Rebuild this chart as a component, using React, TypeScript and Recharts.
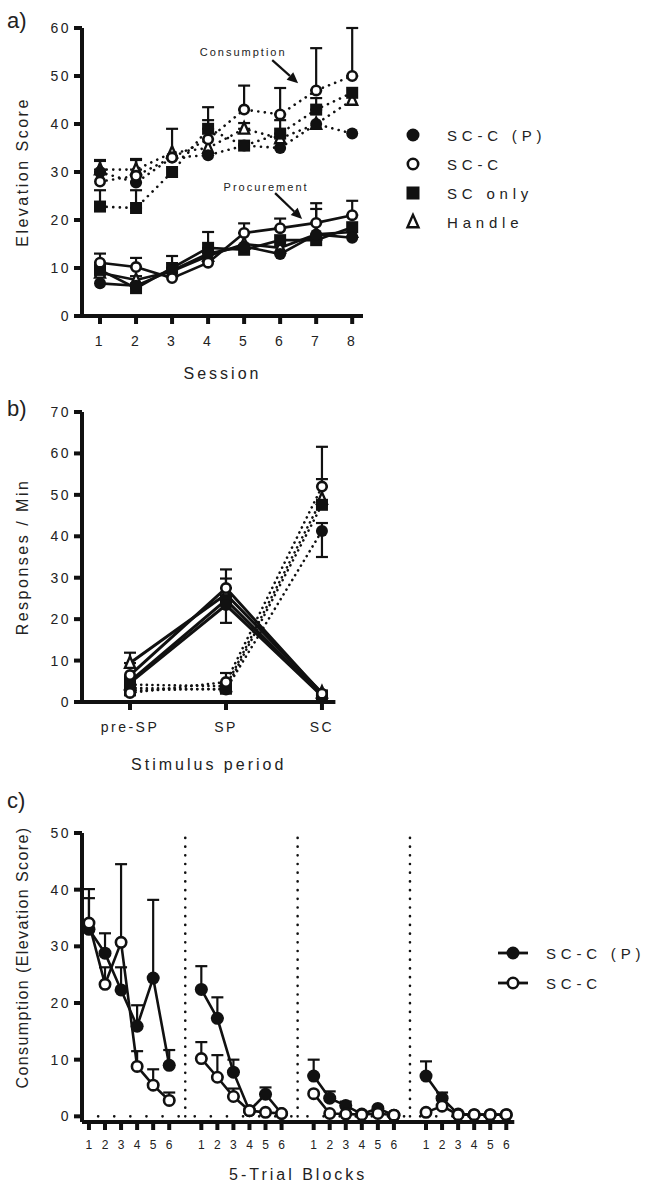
import React from "react";
import { LineChart, Line, XAxis, YAxis, ErrorBar, ReferenceLine } from "recharts";

const FONT = "'Liberation Sans', Arial, Helvetica, sans-serif";
const INK = "#111";
const TXT = "#222";

// ---- a) elevation score per session
const sessions = [1, 2, 3, 4, 5, 6, 7, 8];
const groupNames = ["SC-C (P)", "SC-C", "SC only", "Handle"];

// consumption (dotted)
const consSccP = [30, 27.8, 33, 33.5, 35.5, 35, 40, 38];
const consScc = [28, 29.2, 33, 36.8, 43, 42, 47, 50];
const consScOnly = [22.8, 22.5, 30, 39, 35.5, 38, 43, 46.5];
const consHandle = [30.5, 30.5, 34, 35, 39, 37, 40, 45];
const consSccPErr = [2.5, 4.7, null, null, null, null, null, null];
const consSccErr = [null, 3.5, 6, 4, 5, 5.5, 8.8, 10];
const consScOnlyErr = [3.4, 3.7, null, 4.5, null, 2.8, 2.4, null];
const consHandleErr = [1.8, 2.2, null, null, 1.2, null, null, null];

// procurement (solid)
const procSccP = [6.8, 6.3, 9.5, 13, 14.5, 12.9, 17, 16.3];
const procScc = [11.1, 10.2, 7.9, 11.1, 17.3, 18.3, 19.4, 21];
const procScOnly = [9.6, 5.8, 10, 14.2, 13.8, 15.8, 15.8, 18.5];
const procHandle = [9, 7.5, 9.3, 12.5, 15, 14.2, 17, 17.5];
const procSccPErr = [null, null, null, null, null, null, 5.3, null];
const procSccErr = [1.9, 1.9, null, null, 2, 2, 4.1, 3];
const procScOnlyErr = [null, 2.5, 2.5, 3.3, null, null, null, null];

const notesA = [
  { text: "Consumption", from: [5.78, 53.3], to: [6.5, 48.5], dx: -29, dy: -8 },
  { text: "Procurement", from: [5.86, 25.6], to: [6.61, 20.2], dx: -9, dy: -6 },
];

// ---- b) responses per minute by stimulus period
const periods = ["pre-SP", "SP", "SC"];
const periodPos = [0, 1, 2];
// SP responding (solid)
const spSccP = [4.6, 23.4, 1.5];
const spScc = [6.5, 27.5, 2];
const spScOnly = [5, 24.6, 1.6];
const spHandle = [9.4, 26, 2.2];
const spSccPLow = [null, 4.3, null];
const spSccHigh = [null, 4.5, null];
const spScOnlyHigh = [null, 5.2, null];
const spHandleHigh = [2.5, null, null];
// SC responding (dotted)
const scSccP = [3.4, 3, 41.3];
const scScc = [2.2, 4.8, 52];
const scScOnly = [2.8, 3.2, 47.6];
const scHandle = [4.2, 3.8, 49];
const scSccPLow = [null, null, 6.3];
const scSccPHigh = [null, null, 1.9];
const scSccHigh = [null, 2.2, 9.6];
const scScOnlyHigh = [null, null, 6.2];

// ---- c) consumption over 5-trial blocks, four sessions
const blockLabels = ["1", "2", "3", "4", "5", "6"];
const blockDividers = [7, 14, 21];
const conSccP = [
  33, 28.8, 22.3, 15.9, 24.4, 9.0,
  22.4, 17.3, 7.8, 1.0, 3.9, 0.5,
  7.1, 3.2, 1.9, 0.4, 1.4, 0.2,
  7.1, 3.2, 0.4, 0.3, 0.3, 0.3,
];
const conScc = [
  34.1, 23.3, 30.7, 8.8, 5.5, 2.8,
  10.2, 6.9, 3.5, 1.0, 0.7, 0.5,
  4.0, 0.5, 0.4, 0.3, 0.5, 0.2,
  0.7, 1.8, 0.3, 0.3, 0.3, 0.3,
];
const conSccPErr = [
  5.5, 3.5, 4.0, 3.7, 13.8, 2.7,
  4.1, 3.7, 2.2, null, 1.2, null,
  2.9, 1.2, 0.7, null, null, null,
  2.6, 1.0, null, null, null, null,
];
const conSccErr = [
  6.0, 3.0, 13.8, 2.7, 2.8, 1.4,
  2.9, 3.9, 1.4, null, null, null,
  null, null, null, null, null, null,
  null, null, null, null, null, null,
];

type Kind = "dot" | "ring" | "square" | "tri";
const kinds: Kind[] = ["dot", "ring", "square", "tri"];

const up = (e: number | null) => (e == null ? null : [0, e]);
const both = (lo: number | null, hi: number | null) =>
  lo == null && hi == null ? null : [lo ?? 0, hi ?? 0];

const rowsA = sessions.map((s, i) => ({
  s,
  cP: consSccP[i], cC: consScc[i], cO: consScOnly[i], cH: consHandle[i],
  pP: procSccP[i], pC: procScc[i], pO: procScOnly[i], pH: procHandle[i],
  ecP: up(consSccPErr[i]), ecC: up(consSccErr[i]), ecO: up(consScOnlyErr[i]), ecH: up(consHandleErr[i]),
  epP: up(procSccPErr[i]), epC: up(procSccErr[i]), epO: up(procScOnlyErr[i]),
}));

const rowsB = periodPos.map((x, i) => ({
  x,
  pP: spSccP[i], pC: spScc[i], pO: spScOnly[i], pH: spHandle[i],
  cP: scSccP[i], cC: scScc[i], cO: scScOnly[i], cH: scHandle[i],
  epP: both(spSccPLow[i], null), epC: up(spSccHigh[i]), epO: up(spScOnlyHigh[i]), epH: up(spHandleHigh[i]),
  ecP: both(scSccPLow[i], scSccPHigh[i]), ecC: up(scSccHigh[i]), ecO: up(scScOnlyHigh[i]),
}));

const rowsC: any[] = [];
const ticksC: number[] = [];
for (let b = 0; b < 4; b++) {
  blockLabels.forEach((_, k) => {
    const i = b * 6 + k;
    const x = b * 7 + k + 1;
    ticksC.push(x);
    rowsC.push({ x, f: conSccP[i], o: conScc[i], ef: up(conSccPErr[i]), eo: up(conSccErr[i]) });
  });
  if (b < 3) rowsC.push({ x: blockDividers[b], f: null, o: null });
}

function Mark({ kind, cx, cy, s }: { kind: Kind; cx: number; cy: number; s: number }) {
  if (kind === "dot") return <circle cx={cx} cy={cy} r={s / 2} fill={INK} />;
  if (kind === "ring")
    return <circle cx={cx} cy={cy} r={s / 2 - 1.3} fill="#fff" stroke={INK} strokeWidth={2.6} />;
  if (kind === "square")
    return <rect x={cx - s / 2} y={cy - s / 2} width={s} height={s} fill={INK} />;
  const h = s * 0.95;
  const w = s / 2 - 1;
  return (
    <polygon
      points={`${cx},${cy - h * 0.58} ${cx - w},${cy + h * 0.42} ${cx + w},${cy + h * 0.42}`}
      fill="#fff"
      stroke={INK}
      strokeWidth={2.4}
    />
  );
}

const dotOf = (kind: Kind, s: number) => (p: any) => {
  const { cx, cy, index, value } = p;
  if (value == null || cx == null || cy == null || Number.isNaN(cy)) return <g key={`m${index}`} />;
  return <Mark key={`m${index}`} kind={kind} cx={cx} cy={cy} s={s} />;
};

const tickStyle = { fill: TXT, fontSize: 14, fontFamily: FONT, letterSpacing: 2.5 };
const axisLine = { stroke: INK, strokeWidth: 4 };

const vTitle = (text: string, x: number, dy = 0, spacing = 2.5) => (props: any) => {
  const vb = props.viewBox ?? { x: 0, y: 0, width: 0, height: 0 };
  const cy = vb.y + vb.height / 2 + dy;
  return (
    <text
      x={x}
      y={cy}
      transform={`rotate(-90 ${x} ${cy})`}
      textAnchor="middle"
      dominantBaseline="central"
      fill={TXT}
      fontSize={16}
      fontFamily={FONT}
      letterSpacing={spacing}
    >
      {text}
    </text>
  );
};

const hTitle = (text: string, dy: number) => (props: any) => {
  const vb = props.viewBox ?? { x: 0, y: 0, width: 0, height: 0 };
  return (
    <text
      x={vb.x + vb.width / 2}
      y={vb.y + dy}
      textAnchor="middle"
      dominantBaseline="central"
      fill={TXT}
      fontSize={16}
      fontFamily={FONT}
      letterSpacing={3}
    >
      {text}
    </text>
  );
};

const arrowShape = (text: string, tdx: number, tdy: number) => (p: any) => {
  const { x1, y1, x2, y2 } = p;
  const ang = Math.atan2(y2 - y1, x2 - x1);
  const L = 11;
  const W = 5;
  const bx = x2 - L * Math.cos(ang);
  const by = y2 - L * Math.sin(ang);
  const nx = -Math.sin(ang) * W;
  const ny = Math.cos(ang) * W;
  return (
    <g>
      <line x1={x1} y1={y1} x2={bx} y2={by} stroke={INK} strokeWidth={2.2} />
      <polygon points={`${x2},${y2} ${bx + nx},${by + ny} ${bx - nx},${by - ny}`} fill={INK} />
      <text
        x={x1 + tdx}
        y={y1 + tdy}
        textAnchor="middle"
        dominantBaseline="central"
        fill={TXT}
        fontSize={11}
        fontFamily={FONT}
        letterSpacing={2}
      >
        {text}
      </text>
    </g>
  );
};

const solid = { stroke: INK, strokeWidth: 2.6 };
const dotted = { stroke: INK, strokeWidth: 2.6, strokeDasharray: "0.1 6.5", strokeLinecap: "round" as const };
const eb = { stroke: INK, strokeWidth: 2.2, width: 6 };

// draw order: Handle, SC only, SC-C (P), SC-C
const order = [3, 2, 0, 1];
const keyOf = ["P", "C", "O", "H"];

function Letter({ t, top }: { t: string; top: number }) {
  return (
    <div style={{ position: "absolute", left: 7, top, fontSize: 22, lineHeight: "22px", color: TXT, fontFamily: FONT }}>
      {t}
    </div>
  );
}

function LegendA() {
  return (
    <svg style={{ position: "absolute", left: 400, top: 120 }} width={230} height={120}>
      {groupNames.map((n, i) => (
        <g key={n}>
          <Mark kind={kinds[i]} cx={13} cy={15 + i * 29} s={13} />
          <text x={47} y={15 + i * 29} dominantBaseline="central" fill={TXT} fontSize={15} fontFamily={FONT} letterSpacing={4.8}>
            {n}
          </text>
        </g>
      ))}
    </svg>
  );
}

function LegendC() {
  return (
    <svg style={{ position: "absolute", left: 490, top: 935 }} width={156} height={70}>
      {groupNames.slice(0, 2).map((n, i) => (
        <g key={n}>
          <line x1={8} x2={38} y1={18 + i * 30} y2={18 + i * 30} stroke={INK} strokeWidth={2.8} />
          <Mark kind={kinds[i]} cx={23} cy={18 + i * 30} s={13} />
          <text x={56} y={18 + i * 30} dominantBaseline="central" fill={TXT} fontSize={15} fontFamily={FONT} letterSpacing={4.8}>
            {n}
          </text>
        </g>
      ))}
    </svg>
  );
}

export default function App() {
  return (
    <div style={{ position: "absolute", left: 0, top: 0, width: 646, height: 1184, background: "#fff", fontFamily: FONT }}>
      {/* a) */}
      <div style={{ position: "absolute", left: 0, top: 0 }}>
        <LineChart width={646} height={390} data={rowsA} margin={{ top: 28, right: 283, bottom: 0, left: 0 }}>
          <XAxis
            dataKey="s"
            type="number"
            domain={[0.5, 8.3]}
            ticks={sessions}
            allowDataOverflow
            height={74}
            axisLine={axisLine}
            tickLine={axisLine}
            tickSize={8}
            tickMargin={12}
            tick={tickStyle}
            label={{ content: hTitle("Session", 57) }}
          />
          <YAxis
            type="number"
            domain={[0, 60]}
            ticks={[0, 10, 20, 30, 40, 50, 60]}
            allowDataOverflow
            width={82}
            axisLine={axisLine}
            tickLine={axisLine}
            tickSize={8}
            tickMargin={3}
            tick={tickStyle}
            label={{ content: vTitle("Elevation Score", 22) }}
          />
          {notesA.map((n) => (
            <ReferenceLine
              key={n.text}
              segment={[{ x: n.from[0], y: n.from[1] }, { x: n.to[0], y: n.to[1] }]}
              shape={arrowShape(n.text, n.dx, n.dy)}
            />
          ))}
          {order.map((g) => (
            <Line
              key={`c${g}`}
              dataKey={`c${keyOf[g]}`}
              {...dotted}
              dot={dotOf(kinds[g], 12)}
              activeDot={false}
              isAnimationActive={false}
            >
              <ErrorBar dataKey={`ec${keyOf[g]}`} direction="y" {...eb} />
            </Line>
          ))}
          {order.map((g) => (
            <Line
              key={`p${g}`}
              dataKey={`p${keyOf[g]}`}
              {...solid}
              dot={dotOf(kinds[g], 12)}
              activeDot={false}
              isAnimationActive={false}
            >
              <ErrorBar dataKey={`ep${keyOf[g]}`} direction="y" {...eb} />
            </Line>
          ))}
        </LineChart>
      </div>
      <LegendA />

      {/* b) */}
      <div style={{ position: "absolute", left: 0, top: 380 }}>
        <LineChart width={646} height={402} data={rowsB} margin={{ top: 32, right: 310.6, bottom: 0, left: 0 }}>
          <XAxis
            dataKey="x"
            type="number"
            domain={[-0.5, 2.14]}
            ticks={periodPos}
            tickFormatter={(v: number) => periods[v]}
            allowDataOverflow
            height={80}
            axisLine={axisLine}
            tickLine={axisLine}
            tickSize={8}
            tickMargin={12}
            tick={tickStyle}
            label={{ content: hTitle("Stimulus period", 62) }}
          />
          <YAxis
            type="number"
            domain={[0, 70]}
            ticks={[0, 10, 20, 30, 40, 50, 60, 70]}
            allowDataOverflow
            width={82}
            axisLine={axisLine}
            tickLine={axisLine}
            tickSize={8}
            tickMargin={3}
            tick={tickStyle}
            label={{ content: vTitle("Responses / Min", 22) }}
          />
          {order.map((g) => (
            <Line
              key={`c${g}`}
              dataKey={`c${keyOf[g]}`}
              {...dotted}
              strokeDasharray="0.1 5.5"
              dot={dotOf(kinds[g], 12)}
              activeDot={false}
              isAnimationActive={false}
            >
              <ErrorBar dataKey={`ec${keyOf[g]}`} direction="y" {...eb} />
            </Line>
          ))}
          {order.map((g) => (
            <Line
              key={`p${g}`}
              dataKey={`p${keyOf[g]}`}
              {...solid}
              strokeWidth={3}
              dot={dotOf(kinds[g], 12)}
              activeDot={false}
              isAnimationActive={false}
            >
              <ErrorBar dataKey={`ep${keyOf[g]}`} direction="y" {...eb} />
            </Line>
          ))}
        </LineChart>
      </div>

      {/* c) */}
      <div style={{ position: "absolute", left: 0, top: 800 }}>
        <LineChart width={646} height={384} data={rowsC} margin={{ top: 33, right: 131.7, bottom: 0, left: 0 }}>
          <XAxis
            dataKey="x"
            type="number"
            domain={[0.566, 27.5]}
            ticks={ticksC}
            tickFormatter={(v: number) => blockLabels[(v - 1) % 7]}
            allowDataOverflow
            interval={0}
            height={62}
            axisLine={axisLine}
            tickLine={axisLine}
            tickSize={8}
            tickMargin={10}
            tick={{ ...tickStyle, fontSize: 12, letterSpacing: 0 }}
            label={{ content: hTitle("5-Trial Blocks", 52) }}
          />
          <YAxis
            type="number"
            domain={[-1, 50]}
            ticks={[0, 10, 20, 30, 40, 50]}
            allowDataOverflow
            width={82}
            axisLine={axisLine}
            tickLine={axisLine}
            tickSize={8}
            tickMargin={3}
            tick={tickStyle}
            label={{ content: vTitle("Consumption (Elevation Score)", 22, -20, 1.4) }}
          />
          <ReferenceLine y={0} stroke={INK} strokeWidth={2.6} strokeDasharray="0.1 16" strokeLinecap="round" />
          {blockDividers.map((d) => (
            <ReferenceLine
              key={d}
              segment={[{ x: d, y: 0 }, { x: d, y: 50 }]}
              stroke={INK}
              strokeWidth={2.6}
              strokeDasharray="0.1 8.6"
              strokeLinecap="round"
            />
          ))}
          <Line dataKey="f" {...solid} connectNulls={false} dot={dotOf("dot", 13)} activeDot={false} isAnimationActive={false}>
            <ErrorBar dataKey="ef" direction="y" {...eb} />
          </Line>
          <Line dataKey="o" {...solid} connectNulls={false} dot={dotOf("ring", 13)} activeDot={false} isAnimationActive={false}>
            <ErrorBar dataKey="eo" direction="y" {...eb} />
          </Line>
        </LineChart>
      </div>
      <LegendC />

      <Letter t="a)" top={10} />
      <Letter t="b)" top={398} />
      <Letter t="c)" top={790} />
    </div>
  );
}
